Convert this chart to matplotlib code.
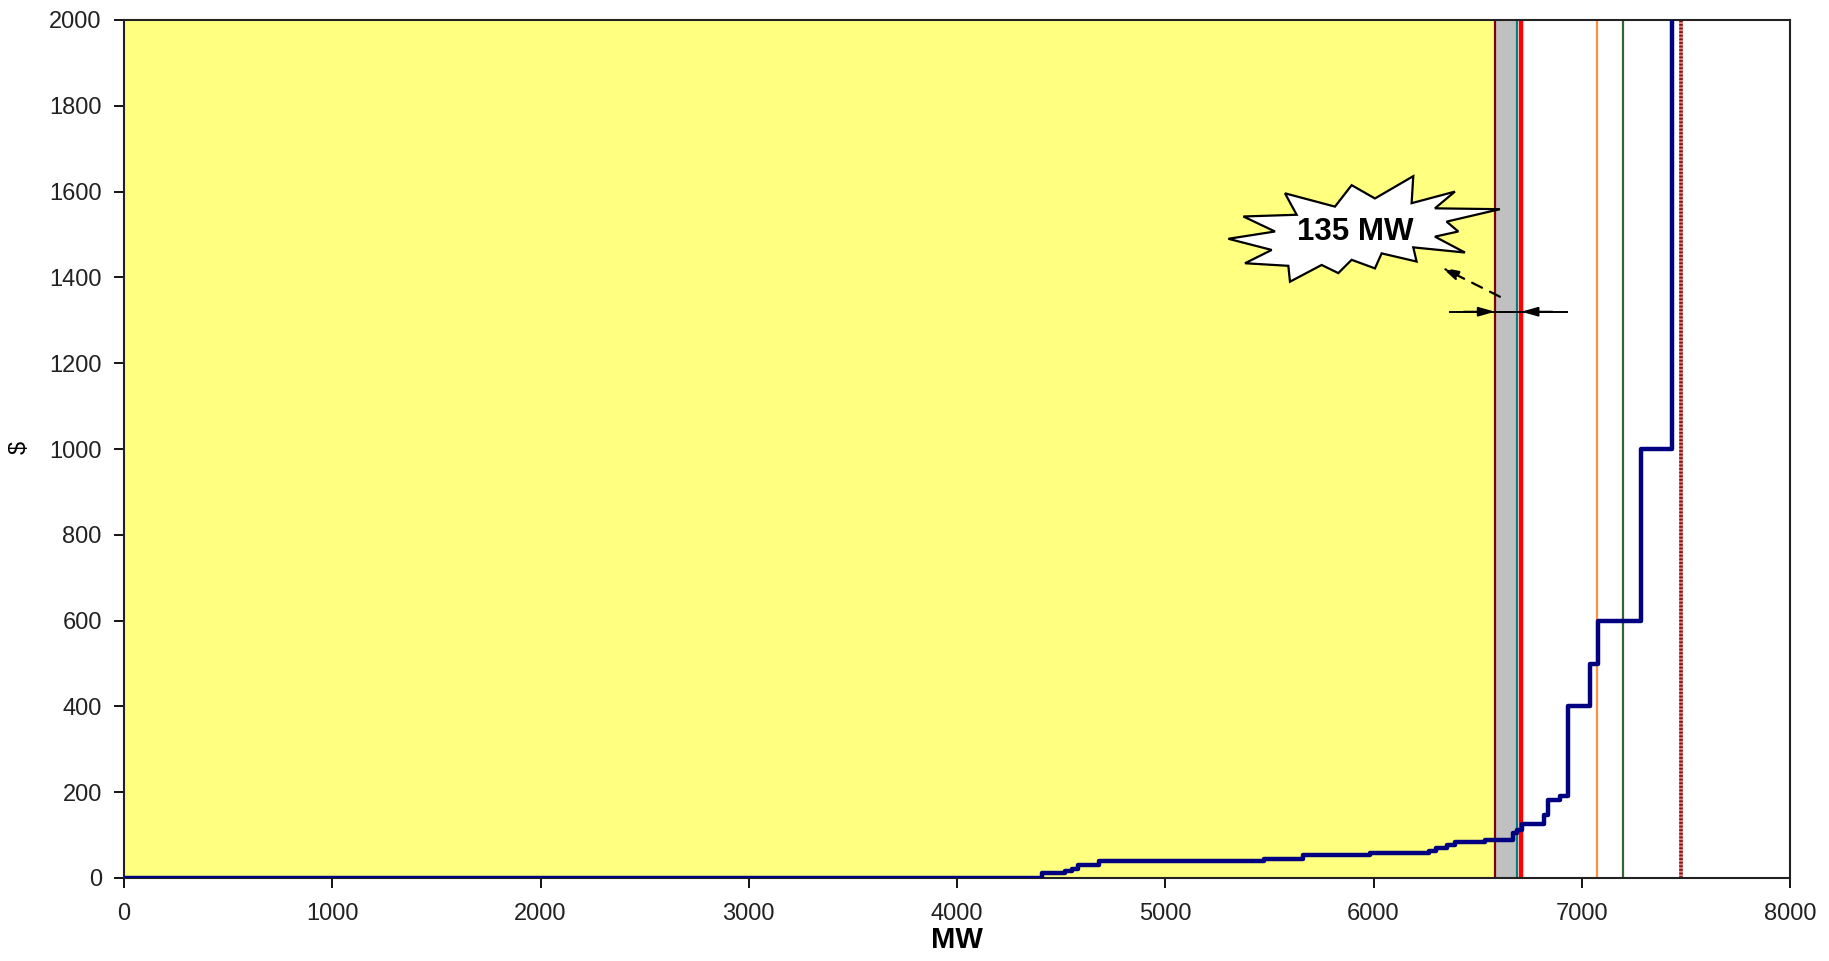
import matplotlib
matplotlib.use("Agg")
import matplotlib.pyplot as plt
from matplotlib.patches import Polygon

plt.rcParams['font.family'] = ['Liberation Sans', 'DejaVu Sans']

# ---- data ----
step_mw = [0, 4407, 4521, 4550, 4583, 4683, 5476, 5663, 5983, 6268, 6299, 6352,
           6391, 6535, 6668, 6687, 6713, 6820, 6836, 6895, 6935, 7039, 7079, 7283, 7435]
step_price = [0, 11, 17, 22, 30, 40, 44, 53, 59, 64, 70, 78,
              84, 88, 106, 113, 125, 148, 182, 190, 401, 498, 600, 1000, 2100]

yellow_end = 6583      # shaded region start..end
gray_start = 6583
gray_end = 6682
teal_mw = 6688
red_mw = 6710
orange_mw = 7071
green_mw = 7199
dotted_mw = 7478
gap_label = "135 MW"
gap_y = 1320

x_ticks = list(range(0, 8001, 1000))
y_ticks = list(range(0, 2001, 200))

# starburst callout outline (data coords)
burst_x = [5303, 5527, 5375, 5631, 5575, 5815, 5895, 6007, 6191, 6183, 6391, 6295,
           6607, 6351, 6407, 6295, 6439, 6191, 6207, 6039, 6007, 5895, 5831, 5751,
           5599, 5591, 5383, 5511]
burst_y = [1490, 1507, 1542, 1546, 1596, 1565, 1615, 1584, 1636, 1573, 1600, 1561,
           1559, 1530, 1507, 1495, 1458, 1470, 1437, 1456, 1421, 1441, 1410, 1429,
           1390, 1427, 1433, 1464]

fig = plt.figure(figsize=(18.29, 9.61), dpi=100)
ax = fig.add_axes([124/1829, 1-878/961, (1790-124)/1829, (878-20)/961])
ax.set_xlim(0, 8000)
ax.set_ylim(0, 2000)
ax.set_facecolor('white')

ax.axvspan(0, yellow_end, color='#FFFF80', zorder=0, lw=0)
ax.axvspan(gray_start, gray_end, color='#C0C0C0', zorder=0, lw=0)

ax.axvline(gray_start, color='#800000', lw=1.6, zorder=2)
ax.axvline(teal_mw, color='#008080', lw=1.6, zorder=2)
ax.axvline(red_mw, color='#FF0000', lw=3.2, zorder=2)
ax.axvline(orange_mw, color='#FF9040', lw=1.6, zorder=2)
ax.axvline(green_mw, color='#336633', lw=1.6, zorder=2)
ax.axvline(dotted_mw, color='#E08080', lw=2.6, zorder=2)
ax.axvline(dotted_mw, color='#8B1010', lw=2.6, ls=(0, (0.5, 0.5)), zorder=2)

ax.step(step_mw, step_price, where='post', color='#000080', lw=3.2, zorder=3,
        clip_on=True)

# gap arrows
head = dict(arrowstyle='-|>,head_length=0.7,head_width=0.2', color='black',
            lw=1.4, mutation_scale=14, shrinkA=0, shrinkB=0)
ax.plot([6367, 6927], [gap_y, gap_y], color='black', lw=1.4, zorder=4)
ax.annotate('', xy=(gray_start, gap_y), xytext=(gray_start - 150, gap_y),
            arrowprops=head, zorder=5)
ax.annotate('', xy=(red_mw, gap_y), xytext=(red_mw + 150, gap_y),
            arrowprops=head, zorder=5)
ax.annotate('', xy=(6328, 1423), xytext=(6607, 1355),
            arrowprops=dict(arrowstyle='-|>,head_length=0.7,head_width=0.2',
                            color='black', lw=1.6, linestyle=(0, (5, 4)),
                            mutation_scale=14, shrinkA=0, shrinkB=0), zorder=5)

burst = Polygon(list(zip(burst_x, burst_y)), closed=True, facecolor='white',
                edgecolor='black', lw=1.6, zorder=6)
ax.add_patch(burst)
ax.text(5911, 1506, gap_label, ha='center', va='center', fontsize=22.5,
        fontweight='bold', zorder=7)

ax.set_xticks(x_ticks)
ax.set_yticks(y_ticks)
ax.tick_params(axis='both', direction='out', length=7, width=1.3,
               labelsize=17, colors='black', labelcolor='#222222')
ax.tick_params(axis='y', pad=9)
ax.tick_params(axis='x', pad=11)
for s in ax.spines.values():
    s.set_linewidth(1.5)
    s.set_color('#222222')

ax.set_xlabel('MW', fontsize=21, fontweight='bold', labelpad=1)
fig.text(20/1829, 1-447/961, '$', rotation=90, ha='center', va='center',
         fontsize=17)

fig.savefig('out.png', dpi=100, facecolor='white')
